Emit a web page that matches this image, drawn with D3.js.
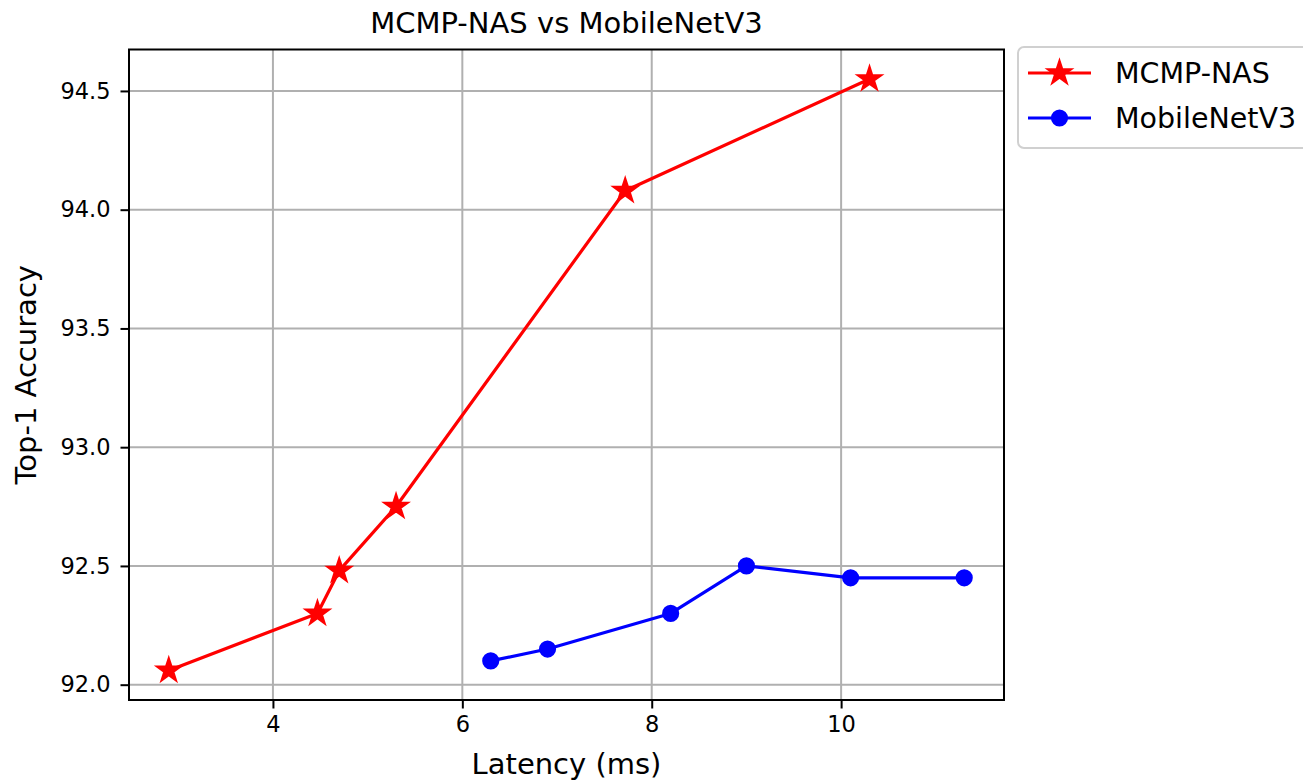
<!DOCTYPE html>
<html>
<head>
<meta charset="utf-8">
<script src="https://cdn.jsdelivr.net/npm/d3@7"></script>
<style>
  body { margin: 0; background: #fff; }
  svg text { font-family: "DejaVu Sans", sans-serif; fill: #000; }
</style>
</head>
<body>
<svg class="chart" width="1303" height="783"></svg>
<script>
// data
var nasLatency = [2.9, 4.47, 4.7, 5.3, 7.72, 10.3];
var nasAccuracy = [92.06, 92.3, 92.48, 92.75, 94.08, 94.55];
var mbLatency = [6.3, 6.9, 8.2, 9.0, 10.1, 11.3];
var mbAccuracy = [92.1, 92.15, 92.3, 92.5, 92.45, 92.45];
var xTicks = [4, 6, 8, 10];
var yTicks = [92.0, 92.5, 93.0, 93.5, 94.0, 94.5];
var seriesNames = ["MCMP-NAS", "MobileNetV3"];

var svg = d3.select("svg.chart");
var plot = { left: 129, right: 1004, top: 49.5, bottom: 700 };

/* matplotlib style 5% margins */
function padded(vals) {
    var lo = d3.min(vals), hi = d3.max(vals), m = (hi - lo) * 0.05;
    return [lo - m, hi + m];
}
var x = d3.scaleLinear()
    .domain(padded(nasLatency.concat(mbLatency)))
    .range([plot.left, plot.right]);
var y = d3.scaleLinear()
    .domain(padded(nasAccuracy.concat(mbAccuracy)))
    .range([plot.bottom, plot.top]);

svg.append("rect").attr("width", 1303).attr("height", 783).attr("fill", "#fff");

// grid
svg.selectAll("line.gx").data(xTicks).enter().append("line")
    .attr("x1", function (d) { return x(d); })
    .attr("x2", function (d) { return x(d); })
    .attr("y1", plot.top).attr("y2", plot.bottom)
    .attr("stroke", "#b0b0b0").attr("stroke-width", 2);
svg.selectAll("line.gy").data(yTicks).enter().append("line")
    .attr("y1", function (d) { return y(d); })
    .attr("y2", function (d) { return y(d); })
    .attr("x1", plot.left).attr("x2", plot.right)
    .attr("stroke", "#b0b0b0").attr("stroke-width", 2);

// axes
var xAxis = d3.axisBottom(x).tickValues(xTicks).tickFormat(d3.format("d"))
    .tickSizeInner(8.5).tickSizeOuter(0).tickPadding(8);
var yAxis = d3.axisLeft(y).tickValues(yTicks).tickFormat(d3.format(".1f"))
    .tickSizeInner(8.5).tickSizeOuter(0).tickPadding(10);

var gx = svg.append("g").attr("transform", "translate(0," + plot.bottom + ")").call(xAxis);
var gy = svg.append("g").attr("transform", "translate(" + plot.left + ",0)").call(yAxis);
[gx, gy].forEach(function (g) {
    g.select(".domain").remove();
    g.selectAll(".tick line").attr("stroke", "#000").attr("stroke-width", 2);
    g.selectAll(".tick text").attr("font-size", 22.5).attr("font-family", "DejaVu Sans").attr("fill", "#222");
});

// series
function drawSeries(xs, ys, color, symbol, size) {
    var pts = xs.map(function (v, i) { return [v, ys[i]]; });
    svg.append("path")
        .datum(pts)
        .attr("fill", "none")
        .attr("stroke", color)
        .attr("stroke-width", 3.2)
        .attr("stroke-linejoin", "round")
        .attr("d", d3.line().x(function (d) { return x(d[0]); }).y(function (d) { return y(d[1]); }));
    svg.selectAll(null).data(pts).enter().append("path")
        .attr("transform", function (d) { return "translate(" + x(d[0]) + "," + y(d[1]) + ")"; })
        .attr("d", d3.symbol().type(symbol).size(size))
        .attr("fill", color)
        .attr("stroke", color).attr("stroke-width", 2).attr("stroke-linejoin", "miter");
}
drawSeries(nasLatency, nasAccuracy, "#ff0000", d3.symbolStar, 175);
drawSeries(mbLatency, mbAccuracy, "#0000ff", d3.symbolCircle, 180);

// frame
svg.append("rect")
    .attr("x", plot.left).attr("y", plot.top)
    .attr("width", plot.right - plot.left).attr("height", plot.bottom - plot.top)
    .attr("fill", "none").attr("stroke", "#000").attr("stroke-width", 2);

// titles
svg.append("text").attr("x", (plot.left + plot.right) / 2).attr("y", 33)
    .attr("text-anchor", "middle").attr("font-size", 29).attr("fill", "#111")
    .text("MCMP-NAS vs MobileNetV3");
svg.append("text").attr("x", (plot.left + plot.right) / 2).attr("y", 774)
    .attr("text-anchor", "middle").attr("font-size", 29).attr("fill", "#111")
    .text("Latency (ms)");
svg.append("text")
    .attr("transform", "translate(36," + ((plot.top + plot.bottom) / 2) + ") rotate(-90)")
    .attr("text-anchor", "middle").attr("font-size", 29).attr("fill", "#111")
    .text("Top-1 Accuracy");

// legend
var lg = svg.append("g");
lg.append("rect")
    .attr("x", 1018).attr("y", 47).attr("width", 310).attr("height", 101)
    .attr("rx", 6).attr("fill", "#fff").attr("stroke", "#d0d0d0").attr("stroke-width", 2);
var legendItems = [
    { name: seriesNames[0], color: "#ff0000", symbol: d3.symbolStar, size: 175, y: 73 },
    { name: seriesNames[1], color: "#0000ff", symbol: d3.symbolCircle, size: 180, y: 118 }
];
legendItems.forEach(function (d) {
    lg.append("line").attr("x1", 1028).attr("x2", 1091).attr("y1", d.y).attr("y2", d.y)
        .attr("stroke", d.color).attr("stroke-width", 3.2);
    lg.append("path").attr("transform", "translate(1059.5," + d.y + ")")
        .attr("d", d3.symbol().type(d.symbol).size(d.size)).attr("fill", d.color)
        .attr("stroke", d.color).attr("stroke-width", 2);
    lg.append("text").attr("x", 1115).attr("y", d.y + 10)
        .attr("font-size", 28.5).attr("fill", "#111").text(d.name);
});
</script>
</body>
</html>
